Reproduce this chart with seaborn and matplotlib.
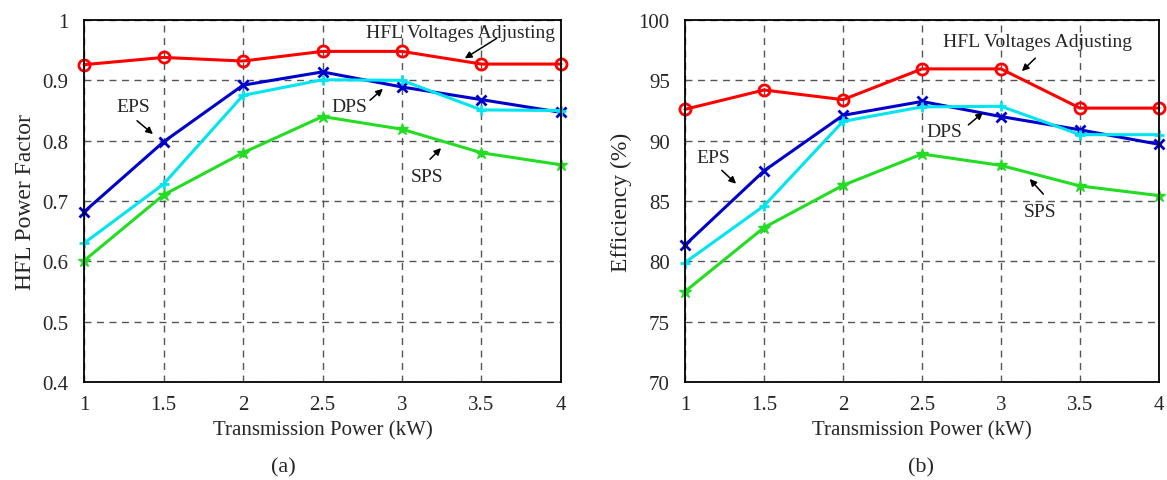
import matplotlib
matplotlib.use("Agg")
import matplotlib.pyplot as plt
import seaborn as sns
import pandas as pd

power = [1, 1.5, 2, 2.5, 3, 3.5, 4]
series_names = ["HFL Voltages Adjusting", "EPS", "DPS", "SPS"]

pf_hfl = [0.926, 0.938, 0.932, 0.948, 0.948, 0.927, 0.927]
pf_eps = [0.682, 0.798, 0.892, 0.914, 0.889, 0.868, 0.847]
pf_dps = [0.630, 0.728, 0.875, 0.901, 0.900, 0.851, 0.850]
pf_sps = [0.601, 0.710, 0.780, 0.840, 0.819, 0.780, 0.760]

eff_hfl = [92.6, 94.2, 93.4, 95.95, 95.95, 92.7, 92.7]
eff_eps = [81.35, 87.5, 92.1, 93.25, 92.0, 90.9, 89.7]
eff_dps = [79.9, 84.6, 91.6, 92.8, 92.85, 90.5, 90.5]
eff_sps = [77.5, 82.8, 86.3, 88.9, 87.95, 86.25, 85.45]

sns.set_style("white")
plt.rcParams["font.family"] = ["Liberation Serif", "DejaVu Serif"]

colors = {"HFL Voltages Adjusting": "#ff0000", "EPS": "#0000cc",
          "DPS": "#00e5f0", "SPS": "#22dd22"}
markers = {"HFL Voltages Adjusting": "o", "EPS": "x", "DPS": "+", "SPS": "*"}

def make_df(vals):
    rows = []
    for name, v in zip(series_names, vals):
        for x, y in zip(power, v):
            rows.append({"P": x, "val": y, "s": name})
    return pd.DataFrame(rows)

df_pf = make_df([pf_hfl, pf_eps, pf_dps, pf_sps])
df_eff = make_df([eff_hfl, eff_eps, eff_dps, eff_sps])

fig = plt.figure(figsize=(11.67, 4.81), dpi=100)
ax1 = fig.add_axes([0.072, 0.2037, 0.4087, 0.7526])
ax2 = fig.add_axes([0.587, 0.2037, 0.4061, 0.7526])

def draw(ax, df):
    for name in series_names:
        sub = df[df["s"] == name]
        mk = markers[name]
        kw = dict(marker=mk, markersize=7, markeredgewidth=2)
        if mk == "o":
            kw.update(markerfacecolor="none", markeredgecolor=colors[name], markersize=8)
        elif mk == "*":
            kw.update(markersize=9, markeredgewidth=1, markeredgecolor=colors[name])
        else:
            kw.update(markeredgecolor=colors[name])
        sns.lineplot(data=sub, x="P", y="val", ax=ax, color=colors[name],
                     linewidth=2.2, legend=False, zorder=3, clip_on=False, **kw)

draw(ax1, df_pf)
draw(ax2, df_eff)

for ax in (ax1, ax2):
    ax.set_xlim(1, 4)
    ax.set_xticks(power)
    ax.set_xticklabels(["1", "1.5", "2", "2.5", "3", "3.5", "4"])
    ax.grid(True, linestyle=(0, (5, 4)), color="#555555", linewidth=1.0)
    for sp in ax.spines.values():
        sp.set_color("black")
        sp.set_linewidth(1.3)
        sp.set_visible(True)
        sp.set_zorder(4)
    ax.tick_params(axis="both", labelsize=15, direction="in", length=3,
                   color="black")
    ax.tick_params(axis="x", pad=9)
    ax.tick_params(axis="y", pad=11)
    ax.set_xlabel("Transmission Power (kW)", fontsize=15, labelpad=5)

ax1.set_ylim(0.4, 1.0)
ax1.set_yticks([0.4, 0.5, 0.6, 0.7, 0.8, 0.9, 1.0])
ax1.set_yticklabels(["0.4", "0.5", "0.6", "0.7", "0.8", "0.9", "1"])
ax1.set_ylabel("HFL Power Factor", fontsize=17, labelpad=5)

ax2.set_ylim(70, 100)
ax2.set_yticks([70, 75, 80, 85, 90, 95, 100])
ax2.set_ylabel("Efficiency (%)", fontsize=17, labelpad=5)

ap = dict(arrowstyle="-|>", color="black", lw=1.1, mutation_scale=10)
fs = 14
# panel (a)
ax1.annotate("", xy=(3.38, 0.934), xytext=(3.61, 0.972), arrowprops=ap)
ax1.text(3.37, 0.979, "HFL Voltages Adjusting", fontsize=fs, ha="center", va="center")
ax1.annotate("", xy=(1.447, 0.808), xytext=(1.32, 0.836), arrowprops=ap)
ax1.text(1.31, 0.856, "EPS", fontsize=fs, ha="center", va="center")
ax1.annotate("", xy=(2.893, 0.889), xytext=(2.786, 0.864), arrowprops=ap)
ax1.text(2.67, 0.856, "DPS", fontsize=fs, ha="center", va="center")
ax1.annotate("", xy=(3.258, 0.791), xytext=(3.164, 0.766), arrowprops=ap)
ax1.text(3.157, 0.741, "SPS", fontsize=fs, ha="center", va="center")

# panel (b)
ax2.annotate("", xy=(3.12, 95.6), xytext=(3.23, 97.0), arrowprops=ap)
ax2.text(3.23, 98.2, "HFL Voltages Adjusting", fontsize=fs, ha="center", va="center")
ax2.annotate("", xy=(1.336, 86.28), xytext=(1.22, 87.7), arrowprops=ap)
ax2.text(1.18, 88.6, "EPS", fontsize=fs, ha="center", va="center")
ax2.annotate("", xy=(2.90, 92.48), xytext=(2.78, 91.16), arrowprops=ap)
ax2.text(2.64, 90.74, "DPS", fontsize=fs, ha="center", va="center")
ax2.annotate("", xy=(3.17, 87.0), xytext=(3.28, 85.4), arrowprops=ap)
ax2.text(3.25, 84.13, "SPS", fontsize=fs, ha="center", va="center")

fig.text(283 / 1167, 1 - 468 / 481, "(a)", fontsize=16, ha="center", va="center")
fig.text(921 / 1167, 1 - 468 / 481, "(b)", fontsize=16, ha="center", va="center")

fig.savefig("out.png", dpi=100, facecolor="white")
